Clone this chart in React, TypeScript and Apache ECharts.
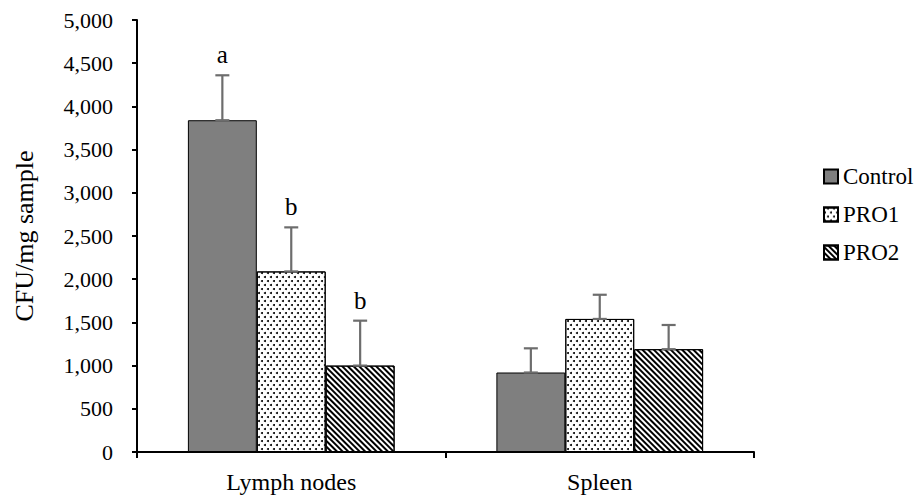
import React, { useEffect, useRef } from "react";
import * as echarts from "echarts";

const categories = ["Lymph nodes", "Spleen"];
const seriesNames = ["Control", "PRO1", "PRO2"];
const controlValues = [3840, 920];
const pro1Values = [2090, 1540];
const pro2Values = [1000, 1190];
const controlUpper = [4360, 1200];
const pro1Upper = [2600, 1820];
const pro2Upper = [1520, 1470];
const letters = [["a", ""], ["b", ""], ["b", ""]];
const yTicks = [0, 500, 1000, 1500, 2000, 2500, 3000, 3500, 4000, 4500, 5000];

const FONT = "'Liberation Serif', 'Times New Roman', serif";

export default function App() {
  const ref = useRef<HTMLDivElement>(null);
  useEffect(() => {
    if (!ref.current) return;
    const chart = echarts.init(ref.current, null, { renderer: "svg" });
    const values = [controlValues, pro1Values, pro2Values];
    const uppers = [controlUpper, pro1Upper, pro2Upper];
    const catGap = 0.33;

    const decals: any[] = [
      null,
      {
        symbol: "circle",
        symbolSize: 1,
        color: "#000",
        backgroundColor: "#fff",
        dashArrayX: [[1.5, 3.5], [0, 2.5, 1.5, 1]],
        dashArrayY: [1.5, 1.2],
        rotation: 0,
      },
      {
        symbol: "rect",
        symbolSize: 1,
        color: "#000",
        backgroundColor: "#fff",
        dashArrayX: [1, 0],
        dashArrayY: [2, 2],
        rotation: Math.PI / 4,
      },
    ];
    const colors = ["#7f7f7f", "#ffffff", "#ffffff"];

    const barSeries = seriesNames.map((name, i) => ({
      name,
      type: "bar",
      data: values[i],
      barGap: "0%",
      barCategoryGap: catGap * 100 + "%",
      itemStyle: {
        color: colors[i],
        borderColor: "#000",
        borderWidth: 1,
        decal: decals[i] || undefined,
      },
      z: 2,
    }));

    const errorData: any[] = [];
    for (let s = 0; s < 3; s++) {
      for (let c = 0; c < categories.length; c++) {
        errorData.push([c, values[s][c], uppers[s][c], s, letters[s][c]]);
      }
    }

    const errorSeries = {
      type: "custom",
      name: "err",
      data: errorData,
      z: 5,
      silent: true,
      encode: { x: 0, y: [1, 2] },
      renderItem: (params: any, api: any) => {
        const c = api.value(0);
        const v = api.value(1);
        const u = api.value(2);
        const s = api.value(3);
        const letter = errorData[params.dataIndex][4];
        const band = api.size([1, 0])[0];
        const barW = (band * (1 - catGap)) / 3;
        const center = api.coord([c, 0])[0];
        const x = center + (s - 1) * barW;
        const yv = api.coord([c, v])[1];
        const yu = api.coord([c, u])[1];
        const cap = 7;
        const style = { stroke: "#6d6d6d", lineWidth: 2.2 };
        const children: any[] = [
          { type: "line", shape: { x1: x, y1: yv, x2: x, y2: yu }, style },
          { type: "line", shape: { x1: x - cap, y1: yu, x2: x + cap, y2: yu }, style },
          { type: "line", shape: { x1: x - cap, y1: yv, x2: x + cap, y2: yv }, style },
        ];
        if (letter) {
          children.push({
            type: "text",
            x,
            y: yu - 8,
            style: {
              text: letter,
              fill: "#000",
              font: "25px " + FONT,
              textAlign: "center",
              textVerticalAlign: "bottom",
            },
          });
        }
        return { type: "group", children };
      },
    };

    chart.setOption({
      animation: false,
      backgroundColor: "#fff",
      textStyle: { fontFamily: FONT },
      grid: { left: 137, right: 167, top: 20, bottom: 45, containLabel: false },
      legend: {
        data: seriesNames,
        orient: "vertical",
        left: 818,
        top: 160,
        itemWidth: 14,
        itemHeight: 14,
        itemGap: 15,
        icon: "rect",
        textStyle: { fontFamily: FONT, fontSize: 23, color: "#000" },
      },
      xAxis: {
        type: "category",
        data: categories,
        axisLine: { lineStyle: { color: "#000", width: 2 } },
        axisTick: { show: true, length: 6, lineStyle: { color: "#000", width: 2 } },
        axisLabel: { fontFamily: FONT, fontSize: 24, color: "#000", margin: 18 },
      },
      yAxis: {
        type: "value",
        min: yTicks[0],
        max: yTicks[yTicks.length - 1],
        interval: 500,
        name: "CFU/mg sample",
        nameLocation: "middle",
        nameGap: 100,
        nameRotate: 90,
        nameTextStyle: { fontFamily: FONT, fontSize: 26, color: "#000" },
        axisLine: { show: true, lineStyle: { color: "#000", width: 2 } },
        axisTick: { show: true, length: 5, lineStyle: { color: "#000", width: 2 } },
        splitLine: { show: false },
        axisLabel: {
          fontFamily: FONT,
          fontSize: 22,
          color: "#000",
          margin: 24,
          formatter: (v: number) => v.toLocaleString("en-US"),
        },
      },
      series: [...barSeries, errorSeries],
    });
    return () => chart.dispose();
  }, []);
  return <div ref={ref} style={{ width: 921, height: 497, position: "absolute", left: 0, top: 0 }} />;
}
